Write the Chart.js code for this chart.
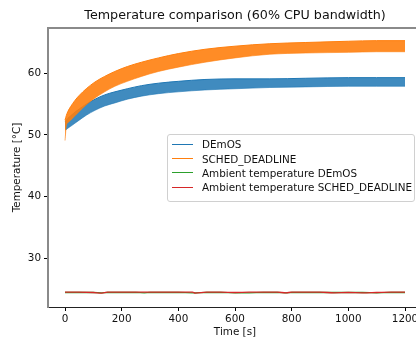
<!DOCTYPE html>
<html>
<head>
<meta charset="utf-8">
<script src="https://cdn.jsdelivr.net/npm/chart.js@4/dist/chart.umd.min.js"></script>
<style>
  body { margin: 0; overflow: hidden; background: #fff; }
  #wrap { position: relative; width: 440px; height: 342px; }
  #legend {
    position: absolute; left: 167px; top: 134px; width: 246px; height: 64px;
    border: 1px solid #d0d0d0; border-radius: 3px; background: rgba(255,255,255,0.8);
    font: 10.4px "DejaVu Sans", sans-serif; color: #111; box-sizing: content-box;
    padding-top: 2px;
  }
  .row { height: 14.4px; display: flex; align-items: center; white-space: nowrap; }
  .sw { width: 21px; height: 0; margin: 0 9px 0 4px; border-top: 1.5px solid; }
</style>
</head>
<body>
<div id="wrap">
  <canvas id="temp-chart" width="440" height="342"></canvas>
  <div id="legend"></div>
</div>
<script>
const C_BLUE = `#1f77b4`;
const C_ORANGE = `#ff7f0e`;
const C_GREEN = `#2ca02c`;
const C_RED = `#d62728`;

// time [s] for the CPU temperature envelopes
const times = [0, 5, 10, 20, 35, 50, 75, 106, 140, 176, 220, 270, 330, 400, 494, 600, 723, 850, 1000, 1100, 1200];
// DEmOS band (upper / lower edge of the oscillation)
const demosHi = [52.1, 52.4, 52.7, 53.1, 53.7, 54.2, 55.0, 55.8, 56.5, 57.0, 57.5, 58.0, 58.4, 58.7, 59.0, 59.1, 59.1, 59.2, 59.3, 59.3, 59.3];
const demosLo = [50.9, 50.9, 51.1, 51.4, 51.9, 52.4, 53.2, 54.0, 54.7, 55.2, 55.8, 56.3, 56.7, 57.0, 57.3, 57.5, 57.7, 57.8, 57.9, 57.9, 57.9];
// SCHED_DEADLINE band
const schedHi = [52.4, 53.2, 53.8, 54.6, 55.6, 56.4, 57.5, 58.6, 59.5, 60.3, 61.1, 61.8, 62.5, 63.2, 63.9, 64.4, 64.8, 65.0, 65.2, 65.3, 65.3];
const schedLo = [49.1, 51.6, 52.0, 52.4, 53.1, 53.8, 54.9, 56.0, 57.0, 57.9, 58.7, 59.5, 60.3, 61.0, 61.8, 62.5, 63.1, 63.3, 63.4, 63.5, 63.5];

// ambient temperatures
const ambTimes = [0, 50, 100, 130, 150, 200, 250, 280, 300, 350, 400, 450, 460, 500, 550, 600, 650, 700, 750, 780, 800, 850, 900, 950, 1000, 1050, 1100, 1150, 1200];
const ambDemos = [24.45, 24.45, 24.45, 24.4, 24.45, 24.45, 24.45, 24.4, 24.45, 24.45, 24.45, 24.4, 24.4, 24.45, 24.45, 24.4, 24.4, 24.45, 24.45, 24.4, 24.45, 24.45, 24.45, 24.45, 24.45, 24.45, 24.4, 24.45, 24.45];
const ambSched = [24.5, 24.5, 24.45, 24.35, 24.5, 24.5, 24.5, 24.5, 24.5, 24.5, 24.5, 24.5, 24.35, 24.5, 24.5, 24.45, 24.5, 24.5, 24.5, 24.4, 24.5, 24.5, 24.5, 24.4, 24.45, 24.4, 24.45, 24.5, 24.5];

const xTicks = [0, 200, 400, 600, 800, 1000, 1200];
const yTicks = [30, 40, 50, 60];

let pts = (xs, ys) => xs.map((x, i) => ({ x: x, y: ys[i] }));

const FONT = { family: `'DejaVu Sans', sans-serif`, size: 10.4 };

let frame = {
	id: `frame`,
	afterDraw: (chart) => {
		let ctx = chart.ctx, a = chart.chartArea;
		ctx.save();
		ctx.strokeStyle = `#8a8a8a`;
		ctx.lineWidth = 2;
		ctx.beginPath();
		ctx.moveTo(a.left, a.top);
		ctx.lineTo(a.right, a.top);
		ctx.lineTo(a.right, a.bottom);
		ctx.stroke();
		ctx.fillStyle = `#111`;
		ctx.font = `12.7px 'DejaVu Sans', sans-serif`;
		ctx.textAlign = `center`;
		ctx.textBaseline = `middle`;
		ctx.fillText(`Temperature comparison (60% CPU bandwidth)`, (a.left + a.right) / 2, 16);
		ctx.restore();
	},
};

let tempChart = new Chart(document.getElementById(`temp-chart`).getContext(`2d`),
{
	type: `line`,
	data: {
		datasets: [
		{
			label: `DEmOS`,
			data: pts(times, demosHi),
			borderColor: C_BLUE,
			backgroundColor: `rgba(31, 119, 180, 0.85)`,
			borderWidth: 1,
			fill: `+1`,
			order: 4,
		},
		{
			label: `_demos_lo`,
			data: pts(times, demosLo),
			borderColor: `rgba(31, 119, 180, 0.6)`,
			borderWidth: 1,
			fill: false,
			order: 4,
		},
		{
			label: `SCHED_DEADLINE`,
			data: pts(times, schedHi),
			borderColor: C_ORANGE,
			backgroundColor: `rgba(255, 127, 14, 0.9)`,
			borderWidth: 1,
			fill: `+1`,
			order: 2,
		},
		{
			label: `_sched_lo`,
			data: pts(times, schedLo),
			borderColor: `rgba(255, 127, 14, 0.6)`,
			borderWidth: 1,
			fill: false,
			order: 2,
		},
		{
			label: `Ambient temperature DEmOS`,
			data: pts(ambTimes, ambDemos),
			borderColor: C_GREEN,
			borderWidth: 1.3,
			fill: false,
			order: 1,
		},
		{
			label: `Ambient temperature SCHED_DEADLINE`,
			data: pts(ambTimes, ambSched),
			borderColor: C_RED,
			borderWidth: 1.3,
			fill: false,
			order: 0,
		},],
	},
	options: {
		responsive: false,
		animation: false,
		devicePixelRatio: 1,
		elements: { point: { radius: 0 }, line: { cubicInterpolationMode: `monotone` } },
		layout: { padding: { top: 28, right: 18, left: 0, bottom: 0 } },
		plugins: {
			legend: { display: false },
			tooltip: { enabled: false },
		},
		scales: {
			x: {
				type: `linear`,
				min: -60,
				max: 1260,
				afterFit: (s) => { s.height = 35; },
				afterBuildTicks: (s) => { s.ticks = xTicks.map(v => ({ value: v })); },
				grid: { drawOnChartArea: false, tickLength: 4, color: `#000` },
				border: { color: `#222`, width: 1 },
				ticks: { font: FONT, color: `#111`, padding: 2, maxRotation: 0, callback: (v) => `${v}` },
				title: { display: true, text: `Time [s]`, font: FONT, color: `#111`, padding: { top: 0, bottom: 3 } },
			},
			y: {
				min: 22.1,
				max: 67.35,
				afterFit: (s) => { s.width = 48; },
				afterBuildTicks: (s) => { s.ticks = yTicks.map(v => ({ value: v })); },
				grid: { drawOnChartArea: false, tickLength: 4, color: `#000` },
				border: { color: `#8a8a8a`, width: 2 },
				ticks: { font: FONT, color: `#111`, padding: 3, callback: (v) => `${v}` },
				title: { display: true, text: `Temperature [°C]`, font: FONT, color: `#111`, padding: { top: 11, bottom: 0 } },
			},
		},
	},
	plugins: [frame],
});

// legend box, built from the datasets
let legendBox = document.getElementById(`legend`);
for (let ds of tempChart.data.datasets)
{
	if (ds.label.startsWith(`_`)) continue;
	let row = document.createElement(`div`);
	row.className = `row`;
	let sw = document.createElement(`span`);
	sw.className = `sw`;
	sw.style.borderTopColor = ds.borderColor;
	row.appendChild(sw);
	row.appendChild(document.createTextNode(ds.label));
	legendBox.appendChild(row);
}
</script>
</body>
</html>
